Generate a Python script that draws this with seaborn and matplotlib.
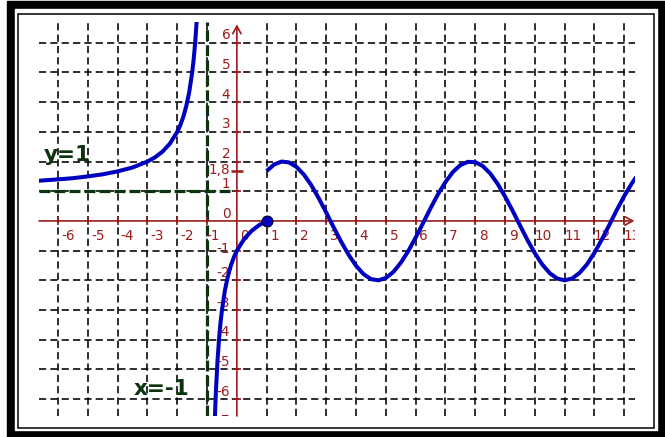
import matplotlib
matplotlib.use("Agg")
import matplotlib.pyplot as plt
from matplotlib.patches import Rectangle
import seaborn as sns

# ---- data ----
# branch left of the vertical asymptote x = -1
left_x = [-6.7, -6.0, -5.5, -5.0, -4.5, -4.0, -3.5, -3.0, -2.75, -2.5, -2.25,
          -2.0, -1.9, -1.8, -1.7, -1.6, -1.5, -1.45, -1.4, -1.35, -1.3]
left_y = [1.35, 1.40, 1.44, 1.50, 1.57, 1.67, 1.80, 2.00, 2.14, 2.33, 2.60,
          3.00, 3.22, 3.50, 3.86, 4.33, 5.00, 5.44, 6.00, 6.71, 7.67]

# branch between x = -1 and the closed point (1, 0)
mid_x = [-0.75, -0.725, -0.7, -0.65, -0.6, -0.55, -0.5, -0.4, -0.3, -0.2,
         -0.1, 0.0, 0.25, 0.5, 0.75, 1.0]
mid_y = [-7.00, -6.27, -5.67, -4.71, -4.00, -3.44, -3.00, -2.33, -1.86, -1.50,
         -1.22, -1.00, -0.60, -0.33, -0.14, 0.00]

# wave for x > 1
wave_x = [1.0, 1.25, 1.5, 1.75, 2.0, 2.25, 2.5, 2.75, 3.0, 3.25, 3.5, 3.75,
          4.0, 4.25, 4.5, 4.75, 5.0, 5.25, 5.5, 5.75, 6.0, 6.25, 6.5, 6.75,
          7.0, 7.25, 7.5, 7.75, 8.0, 8.25, 8.5, 8.75, 9.0, 9.25, 9.5, 9.75,
          10.0, 10.25, 10.5, 10.75, 11.0, 11.25, 11.5, 11.75, 12.0, 12.25,
          12.5, 12.75, 13.0, 13.25, 13.4]
wave_y = [1.68, 1.90, 2.00, 1.97, 1.82, 1.56, 1.20, 0.76, 0.28, -0.22, -0.70,
          -1.14, -1.51, -1.79, -1.96, -2.00, -1.92, -1.72, -1.41, -1.02, -0.56,
          -0.07, 0.43, 0.90, 1.31, 1.65, 1.88, 1.99, 1.98, 1.85, 1.60, 1.25,
          0.82, 0.35, -0.15, -0.64, -1.09, -1.47, -1.76, -1.94, -2.00, -1.94,
          -1.75, -1.46, -1.07, -0.62, -0.13, 0.37, 0.84, 1.26, 1.48]

point_x = [1.0]
point_y = [0.0]

x_ticks = [-6, -5, -4, -3, -2, -1, 0, 1, 2, 3, 4, 5, 6, 7, 8, 9, 10, 11, 12, 13]
y_ticks = [-7, -6, -5, -4, -3, -2, -1, 0, 1, 2, 3, 4, 5, 6]
mark_y = 1.68
mark_label = "1,8"
asym_x = -1
asym_y = 1

XMIN, XMAX = -6.64, 13.36
YMIN, YMAX = -6.57, 6.70

RED = "#9b1c1c"
BLUE = "#0000c0"
GREEN = "#0b330d"

sns.set_style("white")

fig = plt.figure(figsize=(6.65, 4.37), dpi=100)

# double frame around the picture
bg = fig.add_axes([0, 0, 1, 1])
bg.set_xlim(0, 665)
bg.set_ylim(437, 0)
bg.axis("off")
bg.add_patch(Rectangle((7, 1), 658, 436, color="black"))
bg.add_patch(Rectangle((15, 9), 642, 421, color="white"))
bg.add_patch(Rectangle((18, 14), 635.5, 413.5, fill=False, ec="black", lw=1.1))

ax = fig.add_axes([39 / 665, 21 / 437, 596 / 665, 394 / 437])
ax.set_xlim(XMIN, XMAX)
ax.set_ylim(YMIN, YMAX)
ax.set_xticks([])
ax.set_yticks([])
for s in ax.spines.values():
    s.set_visible(False)

# dashed grid
dash = (0, (4.5, 2.6))
for xv in x_ticks:
    if xv != 0:
        ax.axvline(xv, color="black", lw=1.15, ls=dash, zorder=1)
for yv in y_ticks:
    if yv != 0:
        ax.axhline(yv, color="black", lw=1.15, ls=dash, zorder=1)

# asymptotes
gdash = (0, (3.4, 1.3))
ax.axvline(asym_x, color=GREEN, lw=2.3, ls=gdash, zorder=2)
ax.plot([XMIN, -0.1], [asym_y, asym_y], color=GREEN, lw=2.3, ls=gdash, zorder=2)

# axes with arrows
arw = dict(arrowstyle="->,head_length=0.55,head_width=0.3", color=RED, lw=1.2,
           shrinkA=0, shrinkB=0)
ax.annotate("", xy=(XMAX - 0.02, 0), xytext=(XMIN, 0), arrowprops=arw, zorder=3)
ax.annotate("", xy=(0, 6.62), xytext=(0, YMIN), arrowprops=arw, zorder=3)
tx = [v for v in x_ticks if v != 0]
ty = [v for v in y_ticks if v != 0 and v >= -6]
ax.vlines(tx, -0.13, 0.13, color=RED, lw=1.2, zorder=3)
ax.hlines(ty, -0.13, 0.13, color=RED, lw=1.2, zorder=3)
ax.hlines([mark_y], -0.2, 0.2, color=RED, lw=1.8, zorder=3)

# tick labels
for xv in x_ticks:
    off = 0.33 if xv < -1 else (0.2 if xv == -1 else 0.27)
    ax.text(xv + off, -0.5, str(xv), color=RED, fontsize=9.8,
            ha="center", va="center", zorder=3, clip_on=True)
for yv in y_ticks:
    yy = yv + 0.25
    if yv == -1:
        yy = -0.95
    ax.text(-0.22, yy, str(yv), color=RED, fontsize=9.8, ha="right",
            va="center", zorder=3, clip_on=True)
ax.text(-0.22, mark_y + 0.05, mark_label, color=RED, fontsize=9.8, ha="right",
        va="center", zorder=3)

# asymptote labels
ax.text(-5.70, 2.22, "y=1", color=GREEN, fontsize=15.5, fontweight="bold",
        ha="center", va="center", zorder=3)
ax.text(-2.52, -5.66, "x=-1", color=GREEN, fontsize=15.5, fontweight="bold",
        ha="center", va="center", zorder=3)

# function graph
for xs, ys in [(left_x, left_y), (mid_x, mid_y), (wave_x, wave_y)]:
    sns.lineplot(x=xs, y=ys, ax=ax, color=BLUE, lw=2.9, sort=False,
                 estimator=None, zorder=4, solid_capstyle="butt")
sns.scatterplot(x=point_x, y=point_y, ax=ax, color=BLUE, s=60,
                edgecolor="#00002a", linewidth=0.9, zorder=5)

fig.savefig("out.png", dpi=100)
